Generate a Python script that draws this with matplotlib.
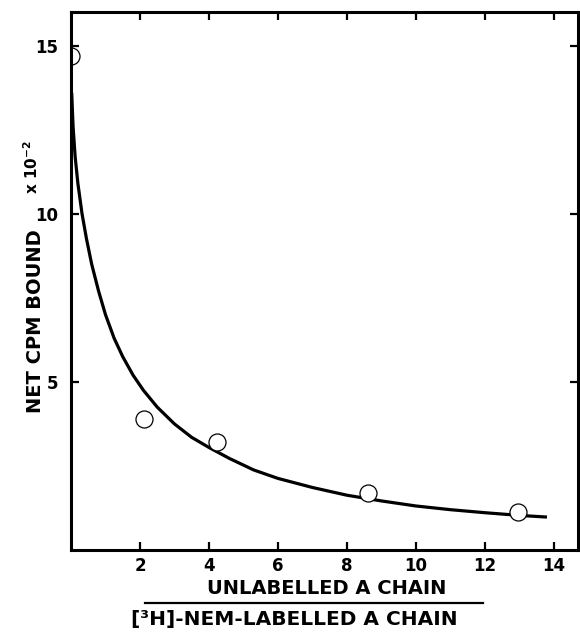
"""Binding displacement curve: net CPM bound vs unlabelled/labelled A chain ratio."""

import matplotlib
matplotlib.use("Agg")
import matplotlib.pyplot as plt
from matplotlib.lines import Line2D

# measured points
ratio = [0.0, 2.12, 4.23, 8.62, 12.95]
cpm_bound = [14.7, 3.91, 3.2, 1.71, 1.12]

# fitted curve
curve_x = [0.02, 0.06, 0.12, 0.2, 0.32, 0.45, 0.6, 0.8, 1.0, 1.25, 1.5, 1.8,
           2.1, 2.5, 3.0, 3.5, 4.0, 4.6, 5.3, 6.0, 7.0, 8.0, 9.0, 10.0, 11.0,
           12.0, 13.0, 13.8]
curve_y = [13.6, 12.6, 11.7, 10.9, 10.0, 9.25, 8.5, 7.7, 7.0, 6.3, 5.75, 5.2,
           4.75, 4.25, 3.75, 3.35, 3.05, 2.72, 2.38, 2.13, 1.86, 1.63, 1.46,
           1.31, 1.2, 1.11, 1.03, 0.98]

xticks = [2, 4, 6, 8, 10, 12, 14]
yticks = [5, 10, 15]

plt.rcParams["font.family"] = ["DejaVu Sans"]
plt.rcParams["font.weight"] = "bold"

fig = plt.figure(figsize=(5.8, 6.32), dpi=100)
ax = fig.add_axes([0.1224, 0.1297, 0.8742, 0.8513])

ax.plot(curve_x, curve_y, color="black", lw=2.3, solid_capstyle="butt",
        solid_joinstyle="round")
pts = ax.scatter(ratio, cpm_bound, s=150, facecolor="white", edgecolor="black",
                 linewidth=0.9, zorder=3)
pts.set_clip_path(ax.patch)

ax.set_xlim(0, 14.7)
ax.set_ylim(0, 16.0)
ax.set_xticks(xticks)
ax.set_yticks(yticks)
ax.tick_params(direction="in", length=6, width=1.6, labelsize=12,
               top=True, right=True)
ax.tick_params(axis="x", pad=5)
ax.tick_params(axis="y", pad=9)
for lab in ax.get_xticklabels() + ax.get_yticklabels():
    lab.set_fontweight("bold")
for sp in ax.spines.values():
    sp.set_linewidth(2.2)
    sp.set_zorder(4)

# y axis label
fig.text(0.062, 0.492, "NET CPM BOUND", rotation=90, ha="center", va="center",
         fontsize=14, fontweight="bold")
fig.text(0.055, 0.735, r"x 10$^{\mathbf{-2}}$", rotation=90, ha="center",
         va="center", fontsize=11, fontweight="bold")

# x axis label as a fraction
fig.text(0.564, 0.069, "UNLABELLED A CHAIN", ha="center", va="center",
         fontsize=14, fontweight="bold")
fig.add_artist(Line2D([0.25, 0.833], [0.0465, 0.0465], color="black", lw=1.6,
                      transform=fig.transFigure))
fig.text(0.507, 0.019, "[³H]-NEM-LABELLED A CHAIN", ha="center", va="center",
         fontsize=14.5, fontweight="bold")

fig.savefig("out.png", dpi=100)
